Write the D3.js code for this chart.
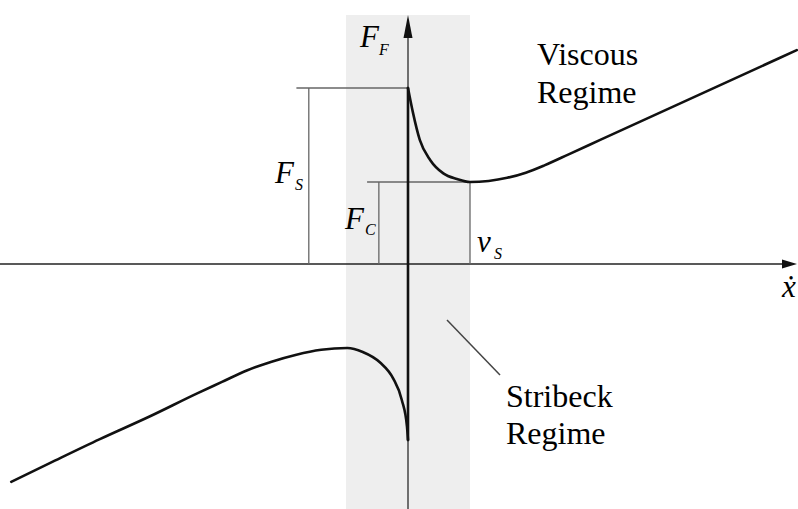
<!DOCTYPE html>
<html>
<head>
<script src="https://cdn.jsdelivr.net/npm/d3@7/dist/d3.min.js"></script>
</head>
<body style="margin:0">
<svg id="chart" width="798" height="509"></svg>
<script>
// Friction force F_F versus sliding velocity (v in units of the Stribeck velocity v_S)
const vNeg = [-6.40, -5.77, -4.97, -4.16, -3.40, -3.00, -2.60, -2.20, -1.80, -1.40, -0.98, -0.73, -0.45, -0.24, -0.10, -0.016, 0];
const fNeg = [-2.475, -2.26, -1.99, -1.73, -1.47, -1.34, -1.21, -1.11, -1.03, -0.975, -0.955, -1.00, -1.12, -1.30, -1.545, -1.85, -2.00];
const vPos = [0, 0.08, 0.19, 0.36, 0.57, 0.79, 1.00, 1.30, 1.60, 1.90, 2.20, 2.60, 3.10, 4.70, 6.27];
const fPos = [2.00, 1.72, 1.41, 1.18, 1.03, 0.966, 0.932, 0.944, 0.979, 1.038, 1.121, 1.249, 1.41, 1.925, 2.43];

// Characteristic values
const staticForce = 2.0;      // F_S
const coulombForce = 0.932;   // F_C
const stribeckVel = 1.0;      // v_S
const stribeckBand = [-1.0, 1.0];

const SERIF = "Liberation Serif";

const svg = d3.select("#chart");
const W = 798, H = 509;

const x = d3.scaleLinear().domain([0, 1]).range([408, 470]);
const y = d3.scaleLinear().domain([0, 2]).range([264, 88]);

// Stribeck regime band
svg.append("rect")
  .attr("x", x(stribeckBand[0])).attr("y", 15)
  .attr("width", x(stribeckBand[1]) - x(stribeckBand[0]))
  .attr("height", H - 15)
  .attr("fill", "#eeeeee");

// Axes
svg.append("line").attr("x1", 0).attr("x2", 784).attr("y1", y(0)).attr("y2", y(0))
  .attr("stroke", "#222").attr("stroke-width", 1.5);
svg.append("path")
  .attr("d", `M${797},${y(0)} L${782},${y(0) - 4.5} L${782},${y(0) + 4.5} Z`)
  .attr("fill", "#111");

svg.append("line").attr("x1", x(0)).attr("x2", x(0)).attr("y1", H).attr("y2", 34)
  .attr("stroke", "#444").attr("stroke-width", 1.5);
svg.append("path")
  .attr("d", `M${x(0)},15 L${x(0) - 4.5},38 L${x(0) + 4.5},38 Z`)
  .attr("fill", "#111");

// Dimension lines
const dim = svg.append("g").attr("stroke", "#666").attr("stroke-width", 1.3).attr("fill", "none");
dim.append("line").attr("x1", x(-1.8)).attr("x2", x(0)).attr("y1", y(staticForce)).attr("y2", y(staticForce));
dim.append("line").attr("x1", x(-1.6)).attr("x2", x(-1.6)).attr("y1", y(staticForce)).attr("y2", y(0));
dim.append("line").attr("x1", x(-0.66)).attr("x2", x(stribeckVel)).attr("y1", y(coulombForce)).attr("y2", y(coulombForce));
dim.append("line").attr("x1", x(-0.47)).attr("x2", x(-0.47)).attr("y1", y(coulombForce)).attr("y2", y(0));
dim.append("line").attr("x1", x(stribeckVel)).attr("x2", x(stribeckVel)).attr("y1", y(coulombForce)).attr("y2", y(0));

// Friction curve
const line = d3.line().x(d => x(d[0])).y(d => y(d[1])).curve(d3.curveMonotoneX);
const curve = svg.append("g").attr("stroke", "#111").attr("stroke-width", 2.6)
  .attr("fill", "none").attr("stroke-linecap", "round").attr("stroke-linejoin", "round");
curve.append("path").attr("d", line(d3.zip(vNeg, fNeg)));
curve.append("line").attr("x1", x(0)).attr("x2", x(0))
  .attr("y1", y(fNeg[fNeg.length - 1])).attr("y2", y(fPos[0]));
curve.append("path").attr("d", line(d3.zip(vPos, fPos)));

// Stribeck regime pointer
svg.append("line").attr("x1", 447).attr("y1", 320).attr("x2", 500).attr("y2", 375)
  .attr("stroke", "#444").attr("stroke-width", 1.5);

// Region labels, one text element per line
function label(lines, x0, y0, dy) {
  lines.forEach((s, i) => svg.append("text")
    .attr("x", x0).attr("y", y0 + i * dy)
    .attr("font-size", 32)
    .attr("font-family", SERIF)
    .text(s));
}
label(["Viscous", "Regime"], 537, 65, 37.5);
label(["Stribeck", "Regime"], 506, 407, 37);

// Symbol labels with italic subscripts
function sym(main, sub, mx, my, sx, sy) {
  svg.append("text").attr("x", mx).attr("y", my)
    .attr("font-size", 31).attr("font-style", "italic")
    .attr("font-family", SERIF).text(main);
  if (sub) svg.append("text").attr("x", sx).attr("y", sy)
    .attr("font-size", 16).attr("font-style", "italic")
    .attr("font-family", SERIF).text(sub);
}
sym("F", "F", 360, 47, 379, 55);
sym("F", "S", 275, 183, 295, 190);
sym("F", "C", 345, 229, 365, 235);
sym("v", "S", 477, 252, 494, 259);
sym("\u1E8B", null, 782, 297);
</script>
</body>
</html>
